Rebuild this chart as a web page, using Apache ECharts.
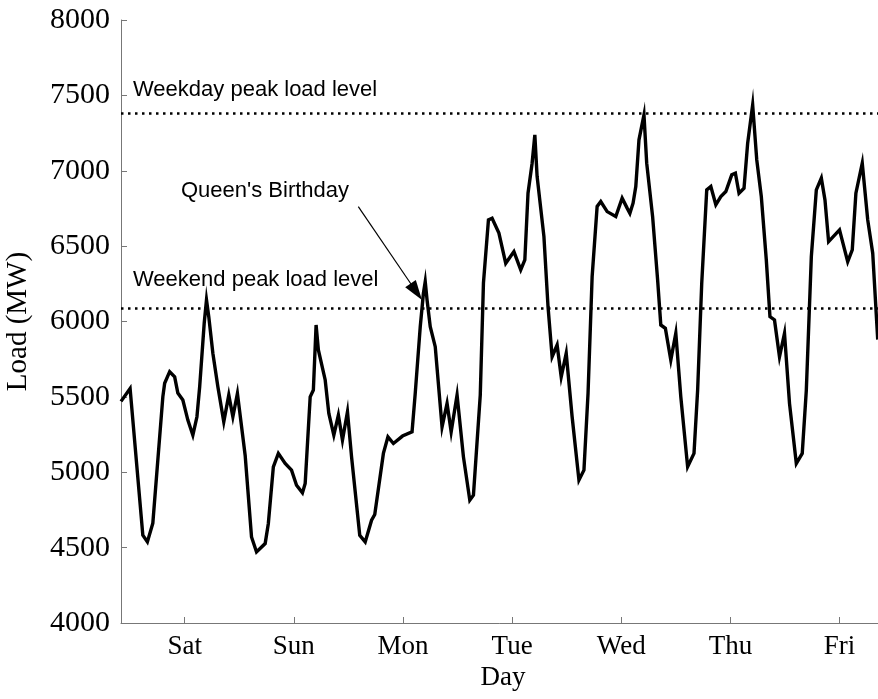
<!DOCTYPE html>
<html>
<head>
<meta charset="utf-8">
<script src="https://cdn.jsdelivr.net/npm/echarts@6/dist/echarts.min.js"></script>
<style>
html,body{margin:0;padding:0;background:#fff;}
#chart{width:878px;height:699px;}
</style>
</head>
<body>
<div id="chart"></div>
<script>
// Hours from the start of the week (Saturday 00:00 region)
var hours = [0, 2.0, 4.8, 5.8, 7.0, 9.2, 9.6, 10.7, 11.8, 12.5,
  13.6, 14.7, 15.8, 16.7, 17.3, 18.3, 18.8, 19.3, 20.2, 21.3,
  22.6, 23.7, 24.6, 25.6, 27.3, 28.7, 29.8, 31.7, 32.4, 33.5,
  34.6, 36.1, 37.5, 38.6, 39.9, 40.5, 41.6, 42.3, 42.9, 43.4,
  44.9, 45.7, 46.8, 47.8, 48.7, 49.8, 50.7, 52.5, 53.7, 55.1,
  55.8, 57.7, 58.7, 59.9, 61.9, 64.0, 64.7, 65.8, 66.5, 66.9,
  67.3, 68.0, 69.1, 70.6, 71.7, 72.6, 73.9, 75.3, 76.7, 77.5,
  79.0, 79.7, 80.8, 81.6, 83.1, 84.6, 86.4, 87.9, 88.8, 89.5,
  90.4, 91.0, 91.5, 93.0, 93.9, 94.8, 95.9, 96.8, 97.9, 99.2,
  100.7, 101.8, 102.7, 103.6, 104.7, 105.5, 106.9, 108.8, 110.2, 111.3,
  111.9, 112.6, 113.2, 113.9, 115.0, 115.6, 116.9, 118.0, 118.7, 119.7,
  120.9, 122.0, 123.1, 124.6, 126.0, 126.8, 127.7, 128.8, 129.7, 130.8,
  131.9, 133.0, 134.3, 135.1, 135.9, 137.0, 137.8, 138.9, 139.8, 140.8,
  141.9, 142.7, 143.7, 144.8, 145.9, 147.0, 148.5, 149.8, 150.7, 151.8,
  152.9, 154.0, 154.8, 155.6, 158.0, 159.8, 160.8, 161.6, 163.0, 164.2,
  165.3, 166.4];
// Load (MW)
var load = [5470, 5556, 4582, 4538, 4662, 5500, 5590, 5667, 5633, 5525,
  5479, 5346, 5246, 5368, 5567, 5990, 6143, 6032, 5789, 5567,
  5335, 5512, 5368, 5523, 5113, 4571, 4471, 4527, 4660, 5036,
  5125, 5058, 5014, 4914, 4863, 4925, 5500, 5545, 5977, 5811,
  5612, 5390, 5246, 5379, 5213, 5401, 5102, 4582, 4538, 4682,
  4720, 5125, 5235, 5191, 5240, 5268, 5523, 5965, 6187, 6264,
  6143, 5965, 5833, 5301, 5457, 5268, 5512, 5102, 4815, 4848,
  5512, 6254, 6674, 6685, 6586, 6386, 6464, 6342, 6408, 6851,
  7050, 7238, 6962, 6563, 6098, 5766, 5844, 5633, 5789, 5368,
  4948, 5014, 5523, 6298, 6763, 6796, 6729, 6696, 6818, 6752,
  6718, 6785, 6895, 7205, 7371, 7050, 6696, 6276, 5977, 5955,
  5744, 5922, 5500, 5036, 5125, 5545, 6254, 6873, 6895, 6774,
  6829, 6862, 6973, 6984, 6851, 6884, 7183, 7437, 7072, 6829,
  6408, 6032, 6010, 5766, 5922, 5457, 5058, 5125, 5545, 6430,
  6873, 6951, 6807, 6530, 6608, 6397, 6475, 6851, 7050, 6674,
  6453, 5880];
var dayLabels = ['Sat', 'Sun', 'Mon', 'Tue', 'Wed', 'Thu', 'Fri'];
var dayTickHours = [14, 38, 62, 86, 110, 134, 158];
var weekdayPeak = 7380;
var weekendPeak = 6085;
var yTicks = [4000, 4500, 5000, 5500, 6000, 6500, 7000, 7500, 8000];

var points = hours.map(function (h, i) { return [h, load[i]]; });

var SERIF = "'Liberation Serif', 'Times New Roman', serif";
var SANS = "'Liberation Sans', Arial, Helvetica, sans-serif";

var chart = echarts.init(document.getElementById('chart'), null, {renderer: 'canvas'});
chart.setOption({
  backgroundColor: '#ffffff',
  animation: false,
  grid: {left: 121, top: 20, right: -7, bottom: 76, containLabel: false, outerBoundsMode: 'none'},
  xAxis: {
    type: 'value', min: 0, max: 168,
    name: 'Day', nameLocation: 'middle', nameGap: 38,
    nameTextStyle: {fontFamily: SERIF, fontSize: 27, color: '#000'},
    axisLine: {show: true, lineStyle: {color: '#777', width: 1}},
    axisTick: {show: true, inside: true, length: 6, customValues: dayTickHours, lineStyle: {color: '#777'}},
    axisLabel: {
      customValues: dayTickHours, margin: 10,
      fontFamily: SERIF, fontSize: 27, color: '#000',
      formatter: function (v) { var i = dayTickHours.indexOf(v); return i >= 0 ? dayLabels[i] : ''; }
    },
    splitLine: {show: false}
  },
  yAxis: {
    type: 'value', min: yTicks[0], max: yTicks[yTicks.length - 1], interval: 500,
    name: 'Load (MW)', nameLocation: 'middle', nameGap: 88,
    nameTextStyle: {fontFamily: SERIF, fontSize: 29, color: '#000'},
    axisLine: {show: true, lineStyle: {color: '#777', width: 1}},
    axisTick: {show: true, inside: true, length: 6, lineStyle: {color: '#777'}},
    axisLabel: {margin: 11, fontFamily: SERIF, fontSize: 30, color: '#000',
      formatter: function (v) { return String(v); }},
    splitLine: {show: false}
  },
  series: [{
    type: 'line',
    data: points,
    showSymbol: false,
    symbol: 'none',
    lineStyle: {color: '#000', width: 3.4, join: 'miter'},
    clip: true,
    markLine: {
      silent: true,
      symbol: ['none', 'none'],
      label: {show: false},
      lineStyle: {color: '#000', width: 2.5, type: [2.5, 4.5]},
      data: [{yAxis: weekdayPeak}, {yAxis: weekendPeak}]
    }
  }],
  graphic: [
    {type: 'text', x: 133, y: 90, style: {text: 'Weekday peak load level', font: '22px ' + SANS, fill: '#000', verticalAlign: 'middle', align: 'left'}},
    {type: 'text', x: 133, y: 280, style: {text: 'Weekend peak load level', font: '22px ' + SANS, fill: '#000', verticalAlign: 'middle', align: 'left'}},
    {type: 'text', x: 181, y: 190.5, style: {text: "Queen's Birthday", font: '22px ' + SANS, fill: '#000', verticalAlign: 'middle', align: 'left'}},
    {type: 'line', shape: {x1: 358.3, y1: 206.7, x2: 411, y2: 284}, style: {stroke: '#000', lineWidth: 1.2}},
    {type: 'polygon', shape: {points: [[422, 300], [405.2, 287.2], [415.8, 279.9]]}, style: {fill: '#000'}}
  ]
});
</script>
</body>
</html>
